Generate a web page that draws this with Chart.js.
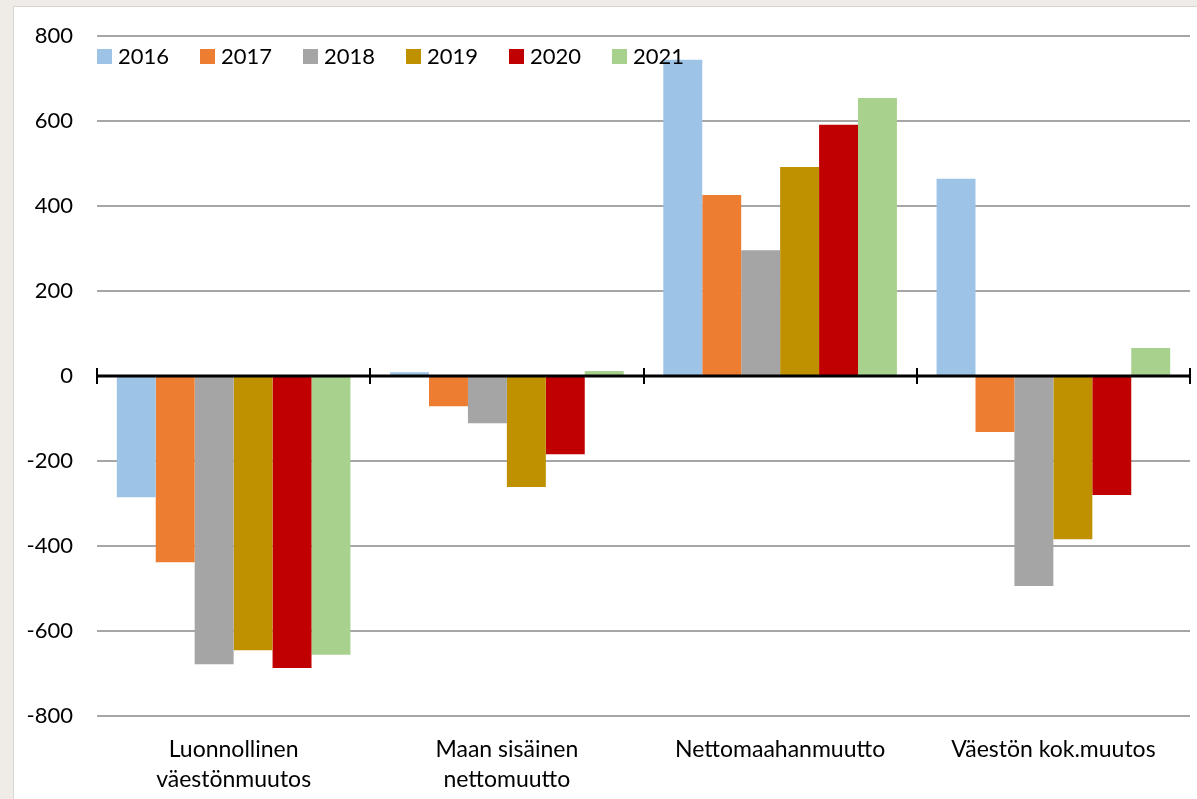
<!DOCTYPE html>
<html>
<head>
<meta charset="utf-8">
<script src="https://cdn.jsdelivr.net/npm/chart.js@4"></script>
<style>
  html, body { margin: 0; padding: 0; background: #efebe7; }
  #frame {
    position: absolute; left: 13px; top: 6px;
    width: 1184px; height: 793px;
    background: #ffffff;
    border-left: 1px solid #d9d6d2; border-top: 1px solid #d9d6d2;
    box-sizing: border-box;
  }
  canvas { display: block; }
</style>
</head>
<body>
<div id="frame"><canvas id="barChart" width="1183" height="792"></canvas></div>
<script>
const categories = [
    ['Luonnollinen', 'väestönmuutos'],
    ['Maan sisäinen', 'nettomuutto'],
    'Nettomaahanmuutto',
    'Väestön kok.muutos'
];
const years = ['2016', '2017', '2018', '2019', '2020', '2021'];
const colors = ['#9dc3e6', '#ed7d31', '#a5a5a5', '#bf9000', '#c00000', '#a9d18e'];

const values2016 = [-285, 9, 744, 464];
const values2017 = [-438, -71, 426, -132];
const values2018 = [-678, -111, 296, -494];
const values2019 = [-645, -261, 492, -384];
const values2020 = [-687, -184, 591, -280];
const values2021 = [-656, 12, 654, 66];
const allValues = [values2016, values2017, values2018, values2019, values2020, values2021];

const FONT = 'Lato, "Open Sans", sans-serif';

// legend drawn inside the plot area, over the bars
const insideLegend = {
    id: 'insideLegend',
    afterDatasetsDraw(chart) {
        const ctx = chart.ctx;
        const area = chart.chartArea;
        const y = area.top + 21;
        let x = area.left;
        ctx.save();
        ctx.font = '22px ' + FONT;
        ctx.textBaseline = 'middle';
        ctx.textAlign = 'left';
        chart.data.datasets.forEach(ds => {
            ctx.fillStyle = ds.backgroundColor;
            ctx.fillRect(x, y - 8, 15, 15);
            ctx.fillStyle = '#000';
            ctx.fillText(ds.label, x + 21, y);
            x += 103;
        });
        ctx.restore();
    }
};

// tick marks across the zero line at category boundaries
const zeroTicks = {
    id: 'zeroTicks',
    afterDatasetsDraw(chart) {
        const ctx = chart.ctx;
        const xs = chart.scales.x;
        const y0 = chart.scales.y.getPixelForValue(0);
        const n = chart.data.labels.length;
        const step = (xs.right - xs.left) / n;
        ctx.save();
        ctx.strokeStyle = '#000';
        ctx.lineWidth = 3;
        ctx.beginPath();
        ctx.moveTo(xs.left, y0);
        ctx.lineTo(xs.right, y0);
        ctx.stroke();
        ctx.lineWidth = 2;
        for (let i = 0; i <= n; i++) {
            const x = Math.round(xs.left + i * step);
            ctx.beginPath();
            ctx.moveTo(x, y0 - 8);
            ctx.lineTo(x, y0 + 8);
            ctx.stroke();
        }
        ctx.restore();
    }
};

const datasets = years.map((year, i) => ({
    label: year,
    data: allValues[i],
    backgroundColor: colors[i],
    borderWidth: 0,
    barPercentage: 1.0,
    categoryPercentage: 0.855
}));

const ctx = document.getElementById('barChart').getContext('2d');
new Chart(ctx, {
    type: 'bar',
    data: { labels: categories, datasets: datasets },
    plugins: [zeroTicks, insideLegend],
    options: {
        responsive: false,
        animation: false,
        layout: { padding: { top: 29, right: 7, bottom: 0, left: 0 } },
        plugins: {
            legend: { display: false },
            tooltip: { enabled: false }
        },
        scales: {
            x: {
                grid: { display: false },
                border: { display: false },
                ticks: {
                    color: '#000',
                    font: { family: FONT, size: 23, lineHeight: 1.3 },
                    padding: 11,
                    maxRotation: 0,
                    autoSkip: false
                },
                afterFit(scale) { scale.height = 83; }
            },
            y: {
                min: -800,
                max: 800,
                border: { display: false },
                grid: {
                    color: ctx => ctx.tick && ctx.tick.value === 0 ? 'rgba(0,0,0,0)' : '#a6a6a6',
                    lineWidth: 2,
                    drawTicks: false
                },
                ticks: {
                    stepSize: 200,
                    color: '#000',
                    font: { family: FONT, size: 22 },
                    padding: 24
                },
                afterFit(scale) {
                    scale.width = 83;
                    scale.paddingTop = 0;
                    scale.paddingBottom = 0;
                }
            }
        }
    }
});
</script>
</body>
</html>
